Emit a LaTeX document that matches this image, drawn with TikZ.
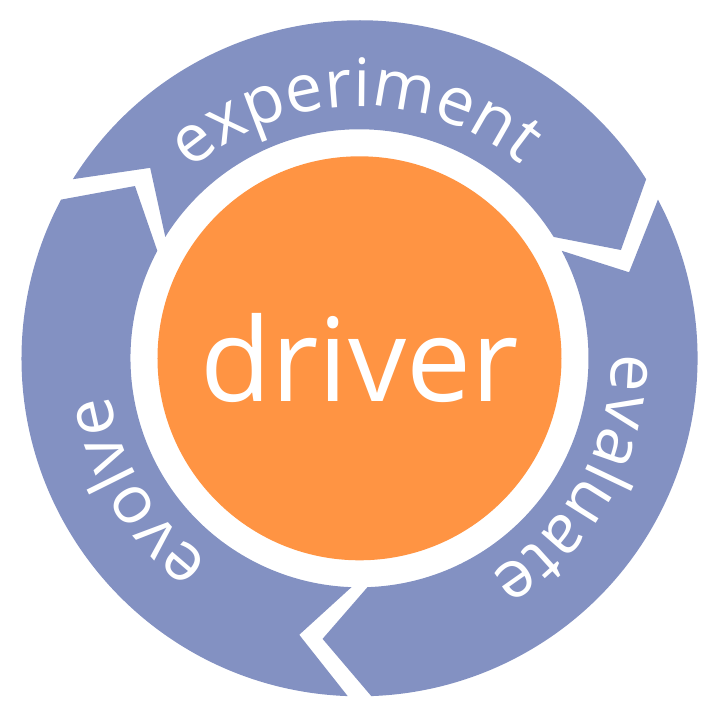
\documentclass[tikz,border=0pt]{standalone}
\usepackage{fontspec}
\setmainfont{Open Sans}
\usetikzlibrary{decorations.text}

\definecolor{ringblue}{HTML}{8391C2}
\definecolor{driverorange}{HTML}{FF9443}
\newcommand{\arcfont}{\fontsize{19}{19}\selectfont}

\begin{document}
\begin{tikzpicture}[
            segment/.style={fill=ringblue},
            core/.style={circle, fill=driverorange, text=white, minimum size=4.04cm, inner sep=0pt, font=\fontsize{33}{33}\selectfont},
            arclabel/.style={decorate, decoration={text along path, text align=center, text color=white}}
        ]
            \useasboundingbox (-3.595,-3.577) rectangle (3.565,3.583);
            
            \foreach \h in {152, 32, -88} {
                \fill[segment] (\h+116:3.38) arc[start angle=\h+116, end angle=\h, radius=3.38]
                    -- (\h-9.5:2.83) -- (\h:2.29) arc[start angle=\h, end angle=\h+116, radius=2.29]
                    -- (\h+105.7:2.83) -- cycle;
            }
            
            \node[core] (driver) at (0,0) {driver};
            
            \path[arclabel, decoration={text={|\arcfont|experiment}}] (151:2.52) arc[start angle=151, end angle=31, radius=2.52];
            \path[arclabel, decoration={text={|\arcfont|evaluate}}] (31:2.52) arc[start angle=31, end angle=-89, radius=2.52];
            \path[arclabel, decoration={text={|\arcfont|evolve}}] (271:2.52) arc[start angle=271, end angle=151, radius=2.52];
            
        \end{tikzpicture}
\end{document}
